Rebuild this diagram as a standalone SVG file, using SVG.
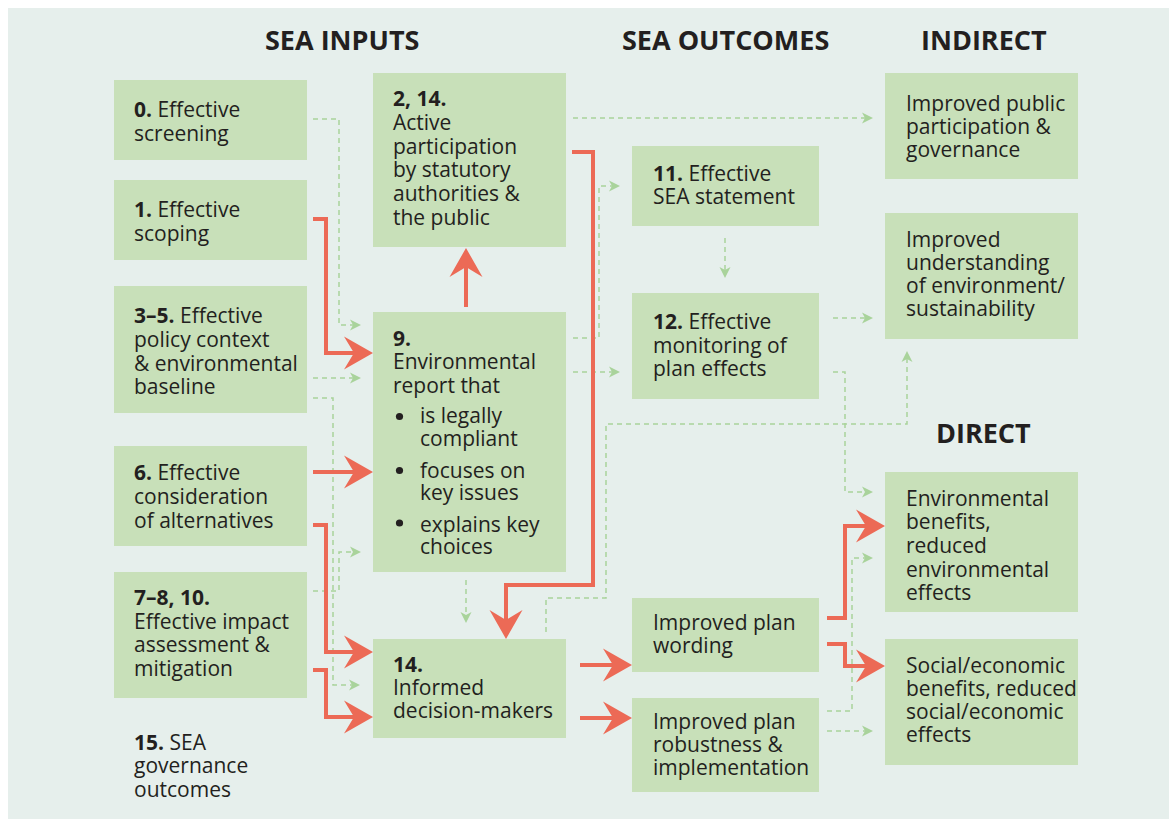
<svg xmlns="http://www.w3.org/2000/svg" width="1169" height="819" viewBox="0 0 1169 819">
  <style>
    .bg { fill: #e6efec; }
    .box { fill: #c8e0b9; }
    .t { font-family: "Open Sans", "Liberation Sans", sans-serif; font-size: 21px; fill: #231f20; }
    .b { font-weight: bold; }
    .dot { fill: #231f20; }
    .h { font-family: "Open Sans", "Liberation Sans", sans-serif; font-size: 27px; font-weight: bold; fill: #231f20; }
    .red { fill: none; stroke: #ec6a56; stroke-width: 4; marker-end: url(#redHead); }
    .dash { fill: none; stroke: #a9d39b; stroke-width: 1.5; stroke-dasharray: 5 4; marker-end: url(#greenHead); }
  </style>
  <defs>
    <marker id="redHead" markerUnits="userSpaceOnUse" viewBox="-30 -18 32 36" refX="-14" refY="0" markerWidth="32" markerHeight="36" orient="auto" overflow="visible">
      <path d="M0,0 L-29,-16.5 L-19,0 L-29,16.5 Z" fill="#ec6a56"/>
    </marker>
    <marker id="greenHead" markerUnits="userSpaceOnUse" viewBox="-12 -7 14 14" refX="-8" refY="0" markerWidth="14" markerHeight="14" orient="auto" overflow="visible">
      <path d="M0,0 L-11,-5.5 L-8,0 L-11,5.5 Z" fill="#a9d39b"/>
    </marker>
  </defs>

  <rect class="bg" x="8" y="8" width="1161" height="811"/>

  <!-- column headings -->
  <g id="headings">
    <text class="h" x="265" y="50">SEA INPUTS</text>
    <text class="h" x="622" y="50">SEA OUTCOMES</text>
    <text class="h" x="921" y="50">INDIRECT</text>
    <text class="h" x="936" y="443">DIRECT</text>
  </g>

  <!-- connectors -->
  <g id="connectors">
    <path class="dash" d="M313,119 H339 V325 H353"/>
    <path class="dash" d="M313,378 H353"/>
    <path class="dash" d="M313,398 H333 V685 H352"/>
    <path class="dash" d="M313,591 H339 V552 H353"/>
    <path class="dash" d="M466,580 V615"/>
    <path class="dash" d="M573,338 H599 V186 H612"/>
    <path class="dash" d="M573,372 H612"/>
    <path class="dash" d="M725,238 V270"/>
    <path class="dash" d="M573,118 H865"/>
    <path class="dash" d="M833,318 H865"/>
    <path class="dash" d="M833,372 H845 V492 H865"/>
    <path class="dash" d="M546,632 V598 H606 V424 H907 V359"/>
    <path class="dash" d="M827,711 H852 V558 H865"/>
    <path class="dash" d="M827,731 H865"/>

    <path class="red" d="M313,219 H326 V353 H359"/>
    <path class="red" d="M313,472 H359"/>
    <path class="red" d="M313,525 H326 V652 H359"/>
    <path class="red" d="M313,670 H326 V717 H359"/>
    <path class="red" d="M466,307 V262"/>
    <path class="red" d="M572,152 H593 V585 H506 V625"/>
    <path class="red" d="M580,665 H618"/>
    <path class="red" d="M580,718 H618"/>
    <path class="red" d="M827,618 H845 V526 H871"/>
    <path class="red" d="M827,644 H845 V666 H871"/>
  </g>

  <!-- inputs -->
  <g id="n0">
    <rect class="box" x="114" y="80" width="193" height="80"/>
    <text class="t" x="134" y="117"><tspan class="b">0.</tspan> Effective<tspan x="134" y="141">screening</tspan></text>
  </g>
  <g id="n1">
    <rect class="box" x="114" y="180" width="193" height="80"/>
    <text class="t" x="134" y="217"><tspan class="b">1.</tspan> Effective<tspan x="134" y="241">scoping</tspan></text>
  </g>
  <g id="n3-5">
    <rect class="box" x="114" y="286" width="193" height="127"/>
    <text class="t" x="134" y="323"><tspan class="b">3–5.</tspan> Effective<tspan x="134" y="347">policy context</tspan><tspan x="134" y="371">&amp; environmental</tspan><tspan x="134" y="394">baseline</tspan></text>
  </g>
  <g id="n6">
    <rect class="box" x="114" y="446" width="193" height="100"/>
    <text class="t" x="134" y="480"><tspan class="b">6.</tspan> Effective<tspan x="134" y="504">consideration</tspan><tspan x="134" y="528">of alternatives</tspan></text>
  </g>
  <g id="n7-8-10">
    <rect class="box" x="114" y="572" width="193" height="126"/>
    <text class="t" x="134" y="605"><tspan class="b">7–8, 10.</tspan><tspan x="134" y="629">Effective impact</tspan><tspan x="134" y="652">assessment &amp;</tspan><tspan x="134" y="676">mitigation</tspan></text>
  </g>
  <g id="n15">
    <text class="t" x="134" y="750"><tspan class="b">15.</tspan> SEA<tspan x="134" y="773">governance</tspan><tspan x="134" y="797">outcomes</tspan></text>
  </g>

  <!-- middle column -->
  <g id="n2-14">
    <rect class="box" x="373" y="73" width="193" height="174"/>
    <text class="t" x="393" y="106"><tspan class="b">2, 14.</tspan><tspan x="393" y="130">Active</tspan><tspan x="393" y="154">participation</tspan><tspan x="393" y="177">by statutory</tspan><tspan x="393" y="201">authorities &amp;</tspan><tspan x="393" y="225">the public</tspan></text>
  </g>
  <g id="n9">
    <rect class="box" x="373" y="312" width="193" height="260"/>
    <text class="t" x="393" y="346"><tspan class="b">9.</tspan><tspan x="393" y="369">Environmental</tspan><tspan x="393" y="393">report that</tspan></text>
    <circle class="dot" cx="399.5" cy="416.5" r="3.6"/>
    <circle class="dot" cx="399.5" cy="470.5" r="3.6"/>
    <circle class="dot" cx="399.5" cy="523" r="3.6"/>
    <text class="t" x="420" y="423">is legally<tspan x="420" y="446">compliant</tspan><tspan x="420" y="478">focuses on</tspan><tspan x="420" y="500">key issues</tspan><tspan x="420" y="532">explains key</tspan><tspan x="420" y="554">choices</tspan></text>
  </g>
  <g id="n14">
    <rect class="box" x="373" y="639" width="193" height="99"/>
    <text class="t" x="393" y="672"><tspan class="b">14.</tspan><tspan x="393" y="695">Informed</tspan><tspan x="393" y="718">decision-makers</tspan></text>
  </g>

  <!-- outcomes -->
  <g id="n11">
    <rect class="box" x="632" y="146" width="187" height="80"/>
    <text class="t" x="653" y="181"><tspan class="b">11.</tspan> Effective<tspan x="653" y="204">SEA statement</tspan></text>
  </g>
  <g id="n12">
    <rect class="box" x="632" y="293" width="187" height="106"/>
    <text class="t" x="653" y="329"><tspan class="b">12.</tspan> Effective<tspan x="653" y="353">monitoring of</tspan><tspan x="653" y="376">plan effects</tspan></text>
  </g>
  <g id="wording">
    <rect class="box" x="632" y="598" width="187" height="74"/>
    <text class="t" x="653" y="630">Improved plan<tspan x="653" y="653">wording</tspan></text>
  </g>
  <g id="robustness">
    <rect class="box" x="632" y="698" width="187" height="94"/>
    <text class="t" x="653" y="729">Improved plan<tspan x="653" y="752">robustness &amp;</tspan><tspan x="653" y="775">implementation</tspan></text>
  </g>

  <!-- indirect / direct effects -->
  <g id="participation">
    <rect class="box" x="885" y="73" width="193" height="106"/>
    <text class="t" x="906" y="111">Improved public<tspan x="906" y="134">participation &amp;</tspan><tspan x="906" y="157">governance</tspan></text>
  </g>
  <g id="understanding">
    <rect class="box" x="885" y="213" width="193" height="126"/>
    <text class="t" x="906" y="247">Improved<tspan x="906" y="270">understanding</tspan><tspan x="906" y="293">of environment/</tspan><tspan x="906" y="316">sustainability</tspan></text>
  </g>
  <g id="environmental">
    <rect class="box" x="885" y="472" width="193" height="140"/>
    <text class="t" x="906" y="506">Environmental<tspan x="906" y="529">benefits,</tspan><tspan x="906" y="553">reduced</tspan><tspan x="906" y="577">environmental</tspan><tspan x="906" y="600">effects</tspan></text>
  </g>
  <g id="social">
    <rect class="box" x="885" y="639" width="193" height="126"/>
    <text class="t" x="906" y="673">Social/economic<tspan x="906" y="696">benefits, reduced</tspan><tspan x="906" y="719">social/economic</tspan><tspan x="906" y="742">effects</tspan></text>
  </g>
</svg>
